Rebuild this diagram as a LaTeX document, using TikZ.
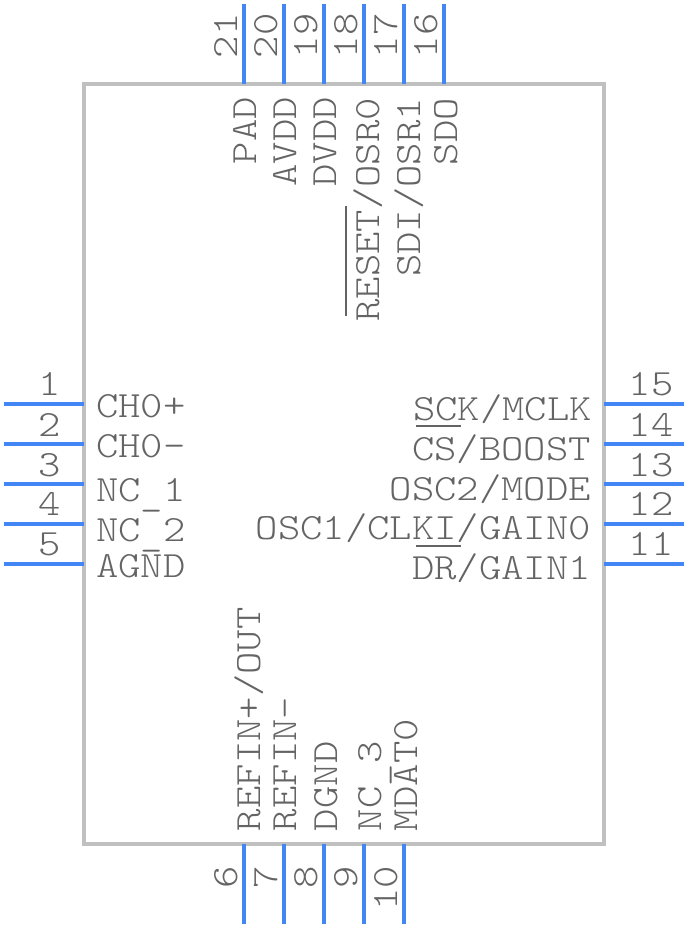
\documentclass[tikz,border=0pt]{standalone}
\usepackage{fontspec}
\newfontfamily\pinfont[FakeStretch=1.15]{Latin Modern Mono Light}
\definecolor{pinblue}{HTML}{4285F4}
\definecolor{bodygrey}{HTML}{C0C0C0}
\definecolor{textgrey}{HTML}{646464}
\newcommand{\lowbar}{\raisebox{-4pt}{\_}}
\tikzset{
  x=1pt,y=-1pt,
  chip/.style={draw=bodygrey,line width=4pt,minimum width=520pt,minimum height=760pt,inner sep=0pt,outer sep=0pt},
  pinline/.style={draw=pinblue,line width=4pt},
  lab/.style={inner sep=0pt,outer sep=0pt,text=textgrey,font=\pinfont\fontsize{37}{37}\selectfont},
  labw/.style={lab,anchor=base west},
  labe/.style={lab,anchor=base east},
  labc/.style={lab,anchor=base},
  vtop/.style={lab,rotate=90,anchor=base east},
  vbot/.style={lab,rotate=90,anchor=base west},
  vmid/.style={lab,rotate=90,anchor=base},
  overbar/.style={draw=textgrey,line width=2.6pt},
}
\begin{document}
\begin{tikzpicture}
\useasboundingbox (0,0) rectangle (688,928);
\node[chip] (chip) at (344,464) {};
% left pins
\foreach \n/\y in {1/404,2/444,3/484,4/524,5/564}{
  \coordinate (pin\n) at (4,\y);
  \draw[pinline] (pin\n) -- (pin\n -| chip.west);
}
% right pins
\foreach \n/\y in {15/404,14/444,13/484,12/524,11/564}{
  \coordinate (pin\n) at (684,\y);
  \draw[pinline] (pin\n) -- (pin\n -| chip.east);
}
% top pins
\foreach \n/\x in {21/244,20/284,19/324,18/364,17/404,16/444}{
  \coordinate (pin\n) at (\x,4);
  \draw[pinline] (pin\n) -- (pin\n |- chip.north);
}
% bottom pins
\foreach \n/\x in {6/244,7/284,8/324,9/364,10/404}{
  \coordinate (pin\n) at (\x,924);
  \draw[pinline] (pin\n) -- (pin\n |- chip.south);
}
% left numbers
\node[labc] (n1) at (50,395) {1};
\node[labc] (n2) at (50,436) {2};
\node[labc] (n3) at (50,476) {3};
\node[labc] (n4) at (50,515) {4};
\node[labc] (n5) at (50,555) {5};
% right numbers
\node[labc] (n15) at (651,395) {15};
\node[labc] (n14) at (651,436) {14};
\node[labc] (n13) at (651,476) {13};
\node[labc] (n12) at (651,515) {12};
\node[labc] (n11) at (651,555) {11};
% top numbers
\node[vmid] (n21) at (237,36) {21};
\node[vmid] (n20) at (277,36) {20};
\node[vmid] (n19) at (317,36) {19};
\node[vmid] (n18) at (357,36) {18};
\node[vmid] (n17) at (397,36) {17};
\node[vmid] (n16) at (437,36) {16};
% bottom numbers
\node[vtop] (n6) at (237,866) {6};
\node[vtop] (n7) at (277,866) {7};
\node[vtop] (n8) at (317,866) {8};
\node[vtop] (n9) at (357,866) {9};
\node[vtop] (n10) at (397,866) {10};
% left labels
\node[labw] (l1) at (96,417) {CH0+};
\node[labw] (l2) at (96,457) {CH0-};
\node[labw] (l3) at (96,501) {NC\lowbar 1};
\node[labw] (l4) at (96,541) {NC\lowbar 2};
\node[labw] (l5) at (96,577) {AGND};
% right labels
\node[labe] (l15) at (592,420) {SCK/MCLK};
\node[labe] (l14) at (591,460) {CS/BOOST};
\node[labe] (l13) at (591,500) {OSC2/MODE};
\node[labe] (l12) at (591,539) {OSC1/CLKI/GAIN0};
\node[labe] (l11) at (591,579) {DR/GAIN1};
% top labels
\node[vtop] (l21) at (256,97) {PAD};
\node[vtop] (l20) at (296,97) {AVDD};
\node[vtop] (l19) at (336,97) {DVDD};
\node[vtop] (l18) at (379,98) {RESET/OSR0};
\node[vtop] (l17) at (420,98) {SDI/OSR1};
\node[vtop] (l16) at (457,98) {SDO};
% bottom labels
\node[vbot] (l6) at (260,831) {REFIN+/OUT};
\node[vbot] (l7) at (296,831) {REFIN-};
\node[vbot] (l8) at (337,831) {DGND};
\node[vbot] (l9) at (381,831) {NC\lowbar 3};
\node[vbot] (l10) at (417,831) {MDAT0};
% overbars
\draw[overbar] (416,426) -- (461,426);
\draw[overbar] (416,546) -- (461,546);
\draw[overbar] (346,206) -- (346,316);
\end{tikzpicture}
\end{document}
